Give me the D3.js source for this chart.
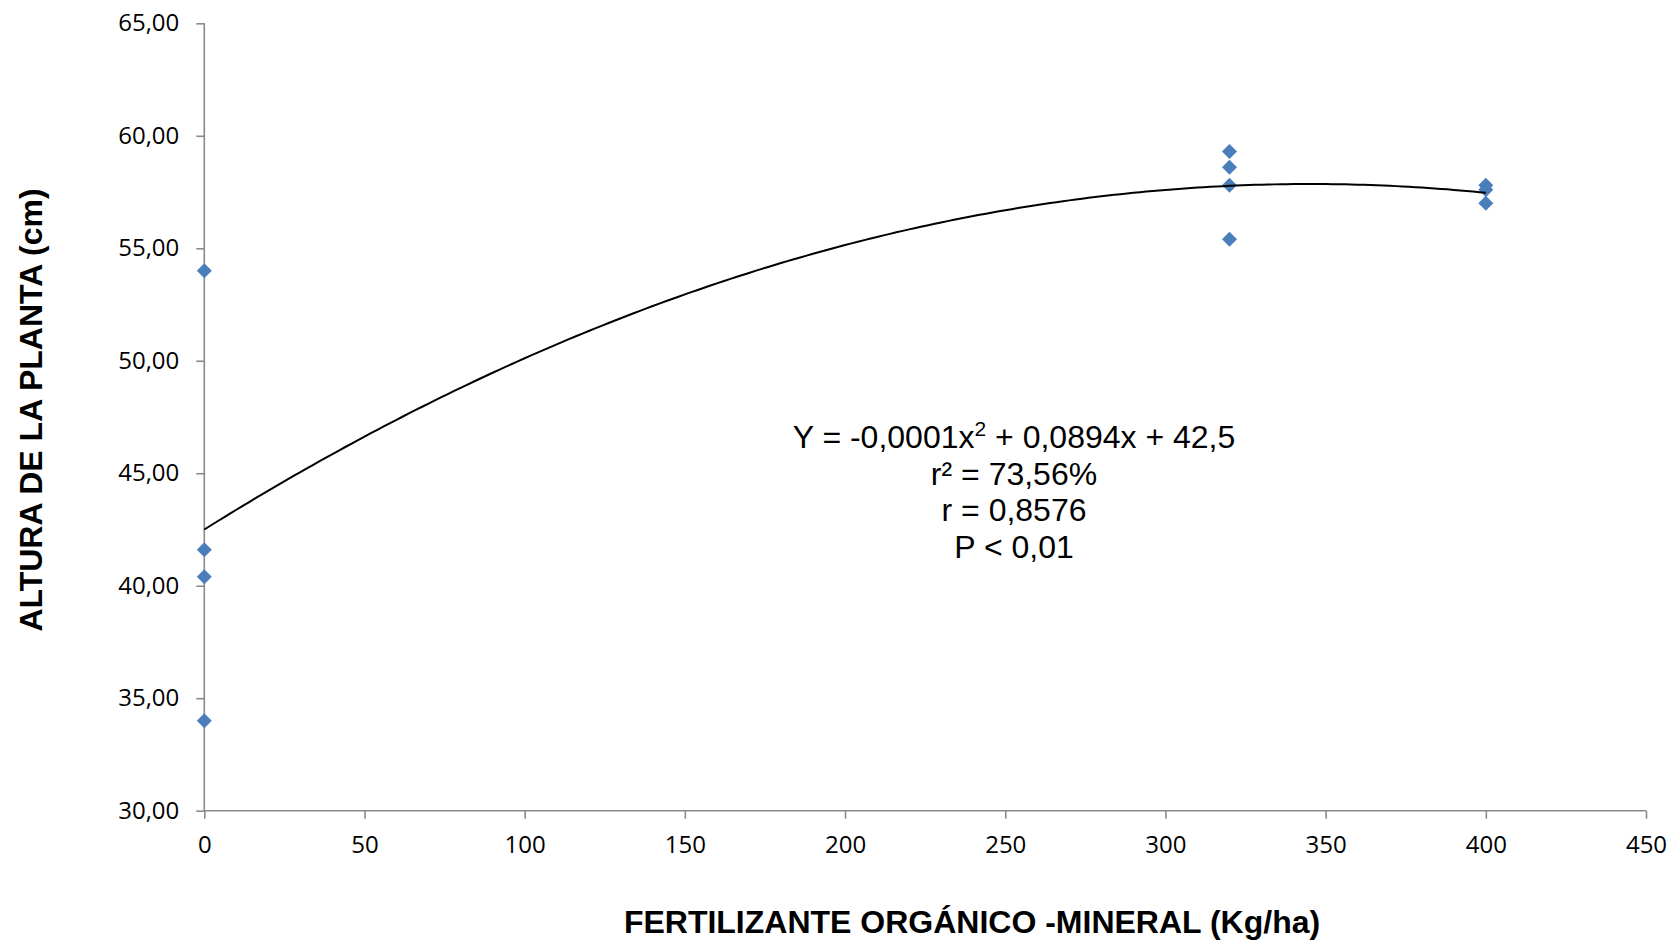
<!DOCTYPE html>
<html>
<head>
<meta charset="utf-8">
<script src="https://cdn.jsdelivr.net/npm/d3@7"></script>
<style>
  html, body { margin: 0; padding: 0; background: #fff; }
  svg { display: block; }
</style>
</head>
<body>
<svg id="chart" width="1669" height="940"></svg>
<script>
// ---- data ----
const doses   = [0, 0, 0, 0, 320, 320, 320, 320, 400, 400, 400];
const heights = [54.0, 41.6, 40.4, 34.0, 59.3, 58.6, 57.8, 55.4, 57.8, 57.6, 57.0];
const xTicks = [0, 50, 100, 150, 200, 250, 300, 350, 400, 450];
const yTicks = [30, 35, 40, 45, 50, 55, 60, 65];
const xTitle = "FERTILIZANTE ORGÁNICO -MINERAL (Kg/ha)";
const yTitle = "ALTURA DE LA PLANTA (cm)";
// first equation line split around the superscript exponent
const eqLine1 = ["Y = -0,0001x", "2", " + 0,0894x + 42,5"];
const eqLines = ["r² = 73,56%", "r = 0,8576", "P < 0,01"];

(function () {
// ---- layout ----
const mLeft = 204.3, mRight = 1646, mTop = 23.3, mBottom = 810.7;

const svg = d3.select("#chart");
const x = d3.scaleLinear().domain([0, 450]).range([mLeft, mRight]);
const y = d3.scaleLinear().domain([30, 65]).range([mBottom, mTop]);

const loc = d3.formatLocale({decimal: ",", thousands: ".", grouping: [3], currency: ["", ""]});
const fy = loc.format(".2f");

const axisColor = "#8a8a8a";

// Y axis
const gy = svg.append("g").attr("transform", `translate(${mLeft},0)`)
  .call(d3.axisLeft(y).tickValues(yTicks).tickSize(8).tickPadding(17).tickFormat(fy));
// X axis
const gx = svg.append("g").attr("transform", `translate(0,${mBottom})`)
  .call(d3.axisBottom(x).tickValues(xTicks).tickSize(8).tickPadding(17).tickFormat(d3.format("d")));

[gx, gy].forEach(g => {
  g.select(".domain").attr("stroke", axisColor).attr("stroke-width", 1.6);
  g.selectAll(".tick line").attr("stroke", axisColor).attr("stroke-width", 1.6);
  g.selectAll(".tick text").attr("fill", "#000")
    .style("font-family", "'Open Sans', sans-serif").style("font-size", "24px");
});
gy.select(".domain").attr("d", `M0,${mTop}V${mBottom}`);
gx.select(".domain").attr("d", `M${mLeft},0H${mRight}`);

// ---- quadratic least-squares fit ----
function quadFit(xs, ys) {
  let n = xs.length, s1=0,s2=0,s3=0,s4=0,t0=0,t1=0,t2=0;
  for (let i = 0; i < n; i++) {
    const a = xs[i], b = ys[i];
    s1 += a; s2 += a*a; s3 += a*a*a; s4 += a*a*a*a;
    t0 += b; t1 += a*b; t2 += a*a*b;
  }
  const M = [[n, s1, s2, t0], [s1, s2, s3, t1], [s2, s3, s4, t2]];
  for (let i = 0; i < 3; i++) {
    let p = i;
    for (let r = i+1; r < 3; r++) if (Math.abs(M[r][i]) > Math.abs(M[p][i])) p = r;
    [M[i], M[p]] = [M[p], M[i]];
    for (let r = 0; r < 3; r++) if (r !== i) {
      const f = M[r][i] / M[i][i];
      for (let c = i; c < 4; c++) M[r][c] -= f * M[i][c];
    }
  }
  return [M[0][3]/M[0][0], M[1][3]/M[1][1], M[2][3]/M[2][2]];
}
const [c0, c1, c2] = quadFit(doses, heights);
const fit = v => c0 + c1*v + c2*v*v;

// ---- points ----
const pts = doses.map((d, i) => ({d, h: heights[i]}));
svg.append("g").selectAll("path").data(pts).join("path")
  .attr("d", d3.symbol().type(d3.symbolSquare).size(112))
  .attr("transform", p => `translate(${x(p.d)},${y(p.h)}) rotate(45)`)
  .attr("fill", "#4a7ebb");

// ---- trend curve ----
const xmax = d3.max(doses), xmin = d3.min(doses);
const curve = d3.range(xmin, xmax + 0.001, 2).map(v => [v, fit(v)]);
svg.append("path").datum(curve)
  .attr("d", d3.line().x(p => x(p[0])).y(p => y(p[1])))
  .attr("fill", "none").attr("stroke", "#000").attr("stroke-width", 2);

// ---- equation text ----
const eqFont = "'Liberation Sans', Arial, sans-serif";
const l1 = svg.append("text").attr("text-anchor", "middle").attr("x", 1014).attr("y", 448)
  .style("font-family", eqFont).style("font-size", "32px").attr("fill", "#000");
l1.append("tspan").text(eqLine1[0]);
l1.append("tspan").attr("dy", -12).style("font-size", "21px").text(eqLine1[1]);
l1.append("tspan").attr("dy", 12).text(eqLine1[2]);

eqLines.forEach((t, i) => {
  svg.append("text").attr("text-anchor", "middle").attr("x", 1014).attr("y", 448 + (i + 1) * 36.5)
    .style("font-family", eqFont).style("font-size", "32px").attr("fill", "#000").text(t);
});

// ---- axis titles ----
svg.append("text").attr("x", 972).attr("y", 933).attr("text-anchor", "middle")
  .style("font-family", "'Liberation Sans', Arial, sans-serif").style("font-size", "32px")
  .style("font-weight", "bold").attr("fill", "#000").text(xTitle);

svg.append("text").attr("transform", "translate(42,410) rotate(-90)").attr("text-anchor", "middle")
  .style("font-family", "'Liberation Sans', Arial, sans-serif").style("font-size", "32px")
  .style("font-weight", "bold").attr("fill", "#000").text(yTitle);
})();
</script>
</body>
</html>
